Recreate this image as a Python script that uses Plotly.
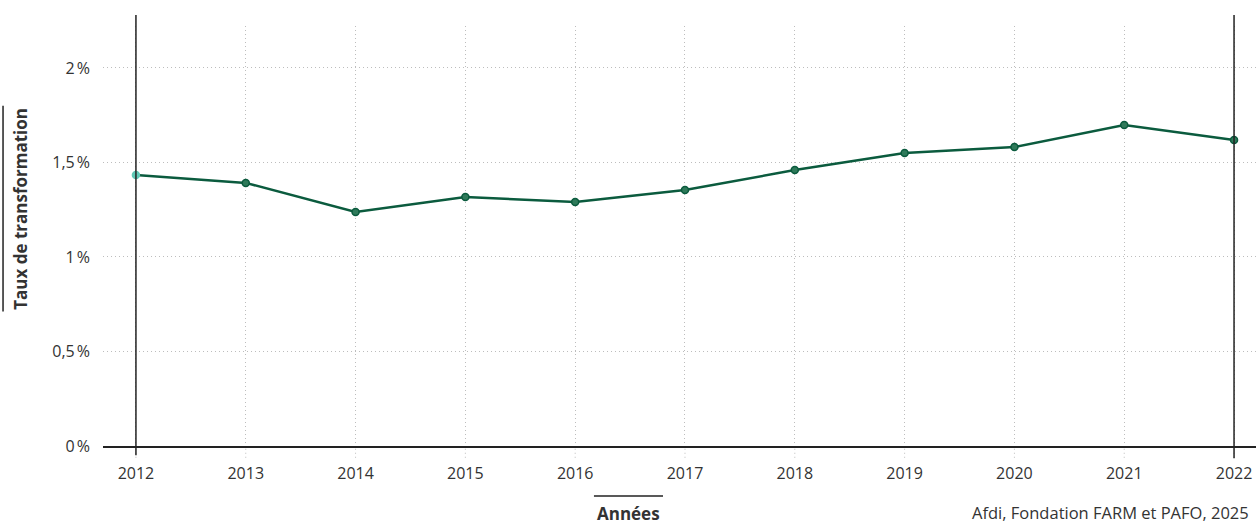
import plotly.graph_objects as go

years = [2012, 2013, 2014, 2015, 2016, 2017, 2018, 2019, 2020, 2021, 2022]
rate = [1.434, 1.392, 1.238, 1.317, 1.291, 1.354, 1.460, 1.550, 1.582, 1.698, 1.619]
y_ticks = [0, 0.5, 1, 1.5, 2]
y_tick_labels = ["0\u202f%", "0,5\u202f%", "1\u202f%", "1,5\u202f%", "2\u202f%"]
x_title = "Années"
y_title = "Taux de transformation"
source = "Afdi, Fondation FARM et PAFO, 2025"

FONT = "Open Sans"
GREEN = "#0b5b3e"
TXT = "#333333"
GRID = "#bdbdbd"

marker_fill = ["#2f7a5a"] * len(years)
marker_line = [GREEN] * len(years)
marker_fill[0] = "#5fc8b5"
marker_line[0] = "#5fc8b5"

fig = go.Figure()
fig.add_trace(go.Scatter(
    x=years, y=rate, mode="lines+markers",
    line=dict(color=GREEN, width=2.5),
    marker=dict(size=7, color=marker_fill, line=dict(color=marker_line, width=1.5)),
    showlegend=False, hoverinfo="skip",
))

shapes = []
for yr in years:
    shapes.append(dict(type="line", xref="x", yref="paper", x0=yr, x1=yr, y0=-0.028, y1=0,
                       line=dict(color=GRID, width=1, dash="1px,3px"), layer="below"))
for yr, yb in [(years[0], -0.022), (years[-1], -0.029)]:
    shapes.append(dict(type="line", xref="x", yref="paper", x0=yr, x1=yr, y0=yb, y1=1.026,
                       line=dict(color="#222222", width=1.5), layer="above"))
shapes.append(dict(type="line", xref="paper", yref="paper", x0=-0.0867, x1=-0.0867,
                   y0=0.32, y1=0.81, line=dict(color="#222222", width=1.5)))
shapes.append(dict(type="line", xref="paper", yref="paper", x0=0.4258, x1=0.4857,
                   y0=-0.119, y1=-0.119, line=dict(color="#222222", width=1.5)))

annotations = [
    dict(text="<b>" + y_title + "</b>", xref="paper", yref="paper", x=-0.071, y=0.565,
         textangle=-90, showarrow=False, font=dict(family=FONT, size=17, color=TXT),
         xanchor="center", yanchor="middle"),
    dict(text="<b>" + x_title + "</b>", xref="paper", yref="paper", x=0.4558, y=-0.16,
         showarrow=False, font=dict(family=FONT, size=17, color=TXT),
         xanchor="center", yanchor="middle"),
    dict(text=source, xref="paper", yref="paper", x=0.9955, y=-0.158,
         showarrow=False, font=dict(family=FONT, size=16.5, color=TXT),
         xanchor="right", yanchor="middle"),
]

fig.update_layout(
    width=1256, height=525,
    margin=dict(l=103, r=0, t=26, b=79, autoexpand=False),
    paper_bgcolor="white", plot_bgcolor="white",
    font=dict(family=FONT, size=16, color=TXT),
    shapes=shapes, annotations=annotations,
    xaxis=dict(range=[2011.70, 2022.20], tickmode="array", tickvals=years,
               ticktext=[str(y) for y in years],
               showgrid=True, gridcolor=GRID, griddash="1px,3px", gridwidth=1,
               showline=True, linecolor="#222222", linewidth=1.5,
               ticks="", ticklabelstandoff=12, zeroline=False,
               tickfont=dict(family=FONT, size=16, color=TXT)),
    yaxis=dict(range=[0, 2.222], tickmode="array", tickvals=y_ticks, ticktext=y_tick_labels,
               showgrid=True, gridcolor=GRID, griddash="1px,3px", gridwidth=1,
               showline=False, zeroline=False, ticks="", ticklabelstandoff=12,
               tickfont=dict(family=FONT, size=16, color=TXT)),
)

fig.write_html("out.html", config={"displayModeBar": False},
               post_script="document.body.style.margin='0';document.body.style.overflow='hidden';")
